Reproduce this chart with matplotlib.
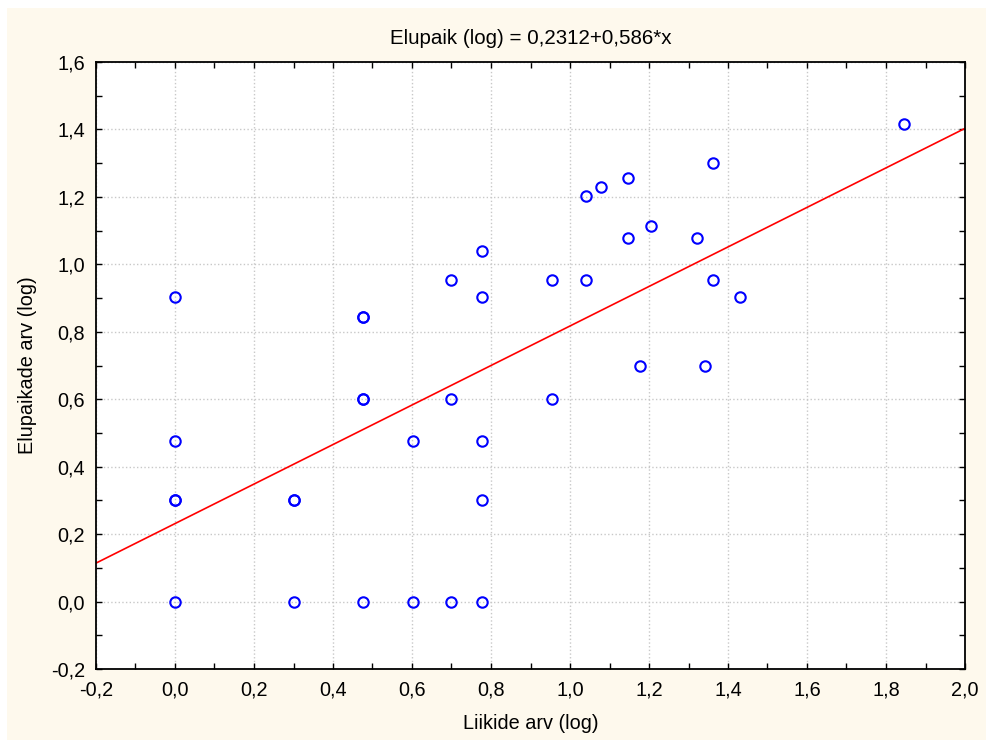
import numpy as np
import matplotlib.pyplot as plt
from matplotlib.patches import Rectangle
from matplotlib.ticker import MultipleLocator, FuncFormatter

# species count (log) vs habitat count (log)
liikide_arv = [0.0, 0.0, 0.0, 0.0, 0.0,
               0.301, 0.301, 0.301,
               0.477, 0.477, 0.477, 0.477, 0.477,
               0.602, 0.602,
               0.699, 0.699, 0.699,
               0.778, 0.778, 0.778, 0.778, 0.778,
               0.954, 0.954,
               1.041, 1.041,
               1.079,
               1.146, 1.146,
               1.176,
               1.204,
               1.322,
               1.342,
               1.362, 1.362,
               1.431,
               1.845]
elupaikade_arv = [0.903, 0.477, 0.301, 0.301, 0.0,
                  0.301, 0.301, 0.0,
                  0.845, 0.845, 0.602, 0.602, 0.0,
                  0.477, 0.0,
                  0.954, 0.602, 0.0,
                  1.041, 0.903, 0.477, 0.301, 0.0,
                  0.954, 0.602,
                  1.204, 0.954,
                  1.230,
                  1.255, 1.079,
                  0.699,
                  1.114,
                  1.079,
                  0.699,
                  1.301, 0.954,
                  0.903,
                  1.415]

intercept = 0.2312
slope = 0.586

plt.rcParams['font.family'] = ['Liberation Sans', 'DejaVu Sans']
plt.rcParams['font.size'] = 14

fig = plt.figure(figsize=(9.87, 7.4), dpi=100)
fig.patch.set_facecolor('white')
# cream background panel
fig.patches.append(Rectangle((7 / 987, -0.01), 1.01, 1.01 - 8 / 740,
                             transform=fig.transFigure, facecolor='#fef9ed',
                             edgecolor='none', zorder=-10))

ax = fig.add_axes([96 / 987, 1 - 669 / 740, 869 / 987, 607 / 740])
ax.set_facecolor('white')

xs = np.array([-0.2, 2.0])
ax.plot(xs, intercept + slope * xs, color='#ff0000', lw=1.2, zorder=2)
ax.plot(liikide_arv, elupaikade_arv, 'o', mfc='none', mec='#0000ff',
        mew=1.5, ms=7.5, zorder=3)

ax.set_xlim(-0.2, 2.0)
ax.set_ylim(-0.2, 1.6)
ax.xaxis.set_major_locator(MultipleLocator(0.2))
ax.xaxis.set_minor_locator(MultipleLocator(0.1))
ax.yaxis.set_major_locator(MultipleLocator(0.2))
ax.yaxis.set_minor_locator(MultipleLocator(0.1))
comma = FuncFormatter(lambda v, p: f'{v:.1f}'.replace('.', ',').replace('-0,0', '0,0'))
ax.xaxis.set_major_formatter(comma)
ax.yaxis.set_major_formatter(comma)

ax.tick_params(which='both', direction='in', top=True, right=True,
               length=4, width=1, color='black')
ax.tick_params(which='major', pad=8, labelsize=14.3)
ax.grid(True, which='major', color='#c8c8c8', ls=':', lw=1)
for s in ax.spines.values():
    s.set_linewidth(1.3)

ax.set_title('Elupaik (log) = 0,2312+0,586*x', pad=13, fontsize=14.8)
ax.set_xlabel('Liikide arv (log)', labelpad=11, fontsize=14.3)
ax.set_ylabel('Elupaikade arv (log)', labelpad=10, fontsize=14.3)

fig.savefig('out.png', dpi=100)
